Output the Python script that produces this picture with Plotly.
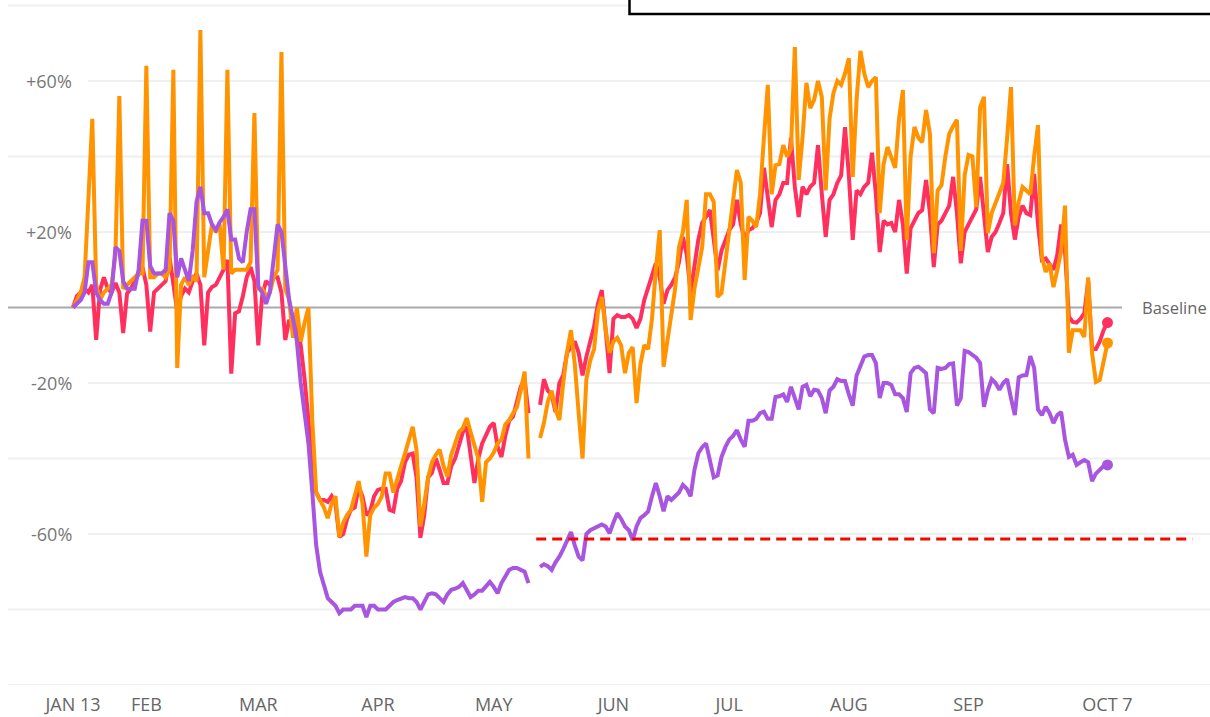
import pandas as pd
import plotly.graph_objects as go

START = "2020-01-13"
N_DAYS = 269

# Daily % change vs baseline (weekly rows, Mon..Sun, starting Mon 13 Jan 2020)
RED = [
    0, 3, 4, 5, 4, 6, -8.6,
    4.6, 8, 5, 4, 6.5, 4, -6.8,
    3.7, 5, 7, 9, 10.7, 6, -6.4,
    4, 5, 6, 7, 13.4, 7, -1,
    3, 5, 4, 7, 9, 6, -10,
    4, 5.4, 6, 8, 10, 12.6, -17.5,
    -1.5, -1, 3, 8, 10.7, 7, -10,
    3, 7, 6, 8, 8, 4, -8.6,
    -3.3, -5, -5, -10, -19, -30, -41,
    -49, -51, -51, -51.5, -50, -52, -60.8,
    -60, -56, -53.6, -53, -47.5, -50, -55,
    -54, -50, -48.3, -48, -48, -53.6, -54,
    -48, -46, -41, -39, -38.7, -45, -61,
    -55, -45, -43.8, -40, -43, -46.5, -46.5,
    -42, -40, -36, -33, -31.6, -40, -46.5,
    -40, -36, -33.8, -31.6, -30.6, -36.9, -39.6,
    -34, -30, -28.9, -25, -21, -19, -28,
    None, None, -25.8, -19, -22, -23, -27.7,
    -20, -17.9, -12, -10.5, -9, -12, -18,
    -13, -9, -5, 1, 4.6, -6, -17.4,
    -3, -2, -2.5, -2.5, -2, -3, -5.4,
    -3, 2, 5, 8, 11.7, 8, 1,
    4.6, 6, 8, 12, 18.7, 14, 4,
    12, 18, 22.4, 24, 25.8, 18, 9.9,
    15, 18, 20.5, 22, 28.5, 22, 18,
    20.5, 21, 22.4, 25, 37, 28, 21.3,
    28.5, 30, 33, 33, 45, 32, 24,
    32, 30, 32, 33, 43, 30, 18.7,
    28.5, 30, 33, 35, 47.8, 35, 17.9,
    31, 30, 32, 33, 41, 30, 14.7,
    23, 22, 22.4, 20, 28.5, 22, 9,
    21, 23, 25, 25.8, 33.8, 25, 10.7,
    22, 23, 25, 27, 34.6, 25, 11.7,
    20, 22, 24, 26, 34.6, 24, 14.7,
    18.7, 20, 22.4, 25, 38, 25, 18,
    24, 27, 25, 24.5, 35.4, 22, 12.6,
    13, 11.7, 10, 14, 22, 15, -2.5,
    -3.8, -4, -3, -1.5, 7, -11, -11,
    -9, -6, -4,
]

ORANGE = [
    0, 2, 4, 8, 28, 50, 6,
    2, 4, 5, 6, 14, 56, 5,
    6, 7, 8, 9, 9, 64, 8,
    8, 9, 9, 8, 10, 63, -16,
    6, 8, 6, 8, 7, 73.5, 8,
    15, 22, 20, 22, 10, 63, 9,
    10, 10, 10, 10, 12, 51.5, 5,
    5, 3, 4, 8, 10, 67.7, 5,
    2, -8, 0, -9, -4, 0, -30,
    -49, -51, -53, -55.8, -52, -50, -60.8,
    -57, -55, -53.6, -50, -46, -52, -66,
    -55, -53, -52, -50, -44, -44, -49,
    -45, -42, -38.7, -35, -31.6, -37.7, -58,
    -52, -45, -41, -39, -37.7, -42, -44.8,
    -39, -36, -33, -32, -29.3, -33, -37,
    -40, -51.5, -41, -40, -38.4, -36, -35,
    -31, -29.8, -28, -26.4, -22, -17, -40,
    None, None, -34.6, -30.6, -25, -22, -27,
    -29.8, -20, -11.8, -6, -15, -28, -40,
    -19, -14, -11, -1, 2.8, -6, -12,
    -9, -8, -10, -17.4, -12, -10.5, -25.3,
    -15, -10, -11, -3, 10, 20.5, -15.7,
    -8.6, -1, 5, 16, 20, 28.5, -3.3,
    5, 10, 16, 30, 30, 28, 2.8,
    3.8, 12, 20.5, 30, 36.4, 33, 7.3,
    24, 23, 21.3, 30, 45, 59, 30,
    37.7, 38, 43, 40, 42, 69, 33.8,
    45, 59.5, 52.8, 55, 60, 55.7, 31,
    50, 56.8, 60, 59, 62, 66, 34.6,
    55, 68, 62, 58.4, 60, 61, 25,
    38, 42.5, 40, 37, 50, 57.6, 17.9,
    40, 47.8, 45, 43.8, 52.3, 46, 14.4,
    31, 32.4, 40, 46, 48, 49.7, 15,
    35, 40.4, 40, 26.6, 53, 55.8, 19.7,
    25, 27.6, 30, 33, 45, 58.4, 21.8,
    28, 31.9, 31, 30, 40, 48.3, 13.4,
    9.4, 11.7, 5.4, 9.9, 15, 27, -12,
    -6, -6, -6, -7.8, 8, -12, -19.7,
    -19.2, -14, -9.4,
]

PURPLE = [
    0, 1, 2, 4, 12, 12, 4,
    2, 1, 1, 4, 16, 15, 7,
    5, 5, 5, 10, 23, 23, 11,
    9, 9, 9, 10, 25, 23, 8,
    13, 10, 7, 15, 28, 32, 25,
    25, 22, 20.5, 22.6, 24, 26, 18,
    18, 13, 12, 20, 26, 26, 5.5,
    4, 1, 4, 12, 22, 20, 10,
    2, -3, -9, -20, -28, -36, -49,
    -63, -70, -74, -77, -78, -79, -81,
    -80, -80, -80, -79, -79, -79, -82,
    -79, -79, -80, -80, -80, -79, -78,
    -77.5, -77, -76.7, -77, -77, -78, -80,
    -78, -76, -75.7, -76, -77, -78, -76,
    -74.8, -74.5, -74, -73, -75, -76.7, -76,
    -75, -75, -74, -72.7, -74, -75.7, -73,
    -71, -69.5, -69, -69, -69.5, -70, -73,
    None, None, -68.7, -68, -68.5, -69.5, -67.5,
    -66, -64, -62, -59.5, -63, -66, -67,
    -60, -59, -58.5, -58, -57.5, -58, -59.8,
    -57, -54.5, -56, -58, -59, -61.6, -58,
    -55.8, -55, -54, -50, -46.5, -50, -54,
    -50, -51, -50, -49, -47, -48, -50,
    -43, -38.6, -37, -36, -40, -45, -44.5,
    -39.6, -37, -35, -34, -32.5, -35, -36.9,
    -30, -30, -29.5, -28, -27.6, -29.5, -29.5,
    -23.7, -23.5, -23, -25, -21, -24, -27,
    -21, -20.5, -23.5, -21.8, -22, -24, -28,
    -22, -21, -19, -19.5, -19.5, -23, -26,
    -18, -15.7, -13, -12.6, -12.6, -14.7, -24,
    -20, -20, -20.5, -23, -23, -24, -27.7,
    -17.4, -16, -15.7, -16.5, -17.4, -27, -28,
    -16, -16.3, -16, -15, -14.8, -26, -24,
    -11.5, -11.8, -12.5, -13.3, -14.7, -26.3, -22,
    -19, -20, -21.8, -20, -19, -24, -28.5,
    -18.5, -18, -17.9, -12.9, -16, -27, -28.5,
    -26.3, -28, -30.6, -28.5, -27.7, -35, -39.6,
    -39, -41.7, -41, -40.4, -41, -46, -44,
    -43, -42, -41.7,
]

TICK_DATES = ["2020-01-13", "2020-02-01", "2020-03-01", "2020-04-01", "2020-05-01",
              "2020-06-01", "2020-07-01", "2020-08-01", "2020-09-01", "2020-10-07"]
TICK_TEXT = ["JAN 13", "FEB", "MAR", "APR", "MAY", "JUN", "JUL", "AUG", "SEP", "OCT 7"]

Y_LABEL_VALUES = [60, 20, -20, -60]
Y_LABEL_TEXT = ["+60%", "+20%", "-20%", "-60%"]
GRID_ONLY_VALUES = [80, 40, -40, -80, -100]

THRESHOLD = -61.3
THRESHOLD_START = "2020-05-12"
THRESHOLD_END = "2020-10-29"

COLORS = {"red": "#FF2F5E", "orange": "#FF9300", "purple": "#A855E0"}

dates = pd.date_range(START, periods=N_DAYS, freq="D")

W, H = 1210, 717
ML, MR, MT, MB = 8, 0, 0, 32
PW = W - ML - MR
PH = H - MT - MB
PX_PER_DAY = 3.86
FIRST_PX = 73  # pixel of first date
x_left = pd.Timestamp(START) - pd.Timedelta(days=(FIRST_PX - ML) / PX_PER_DAY)
x_right = pd.Timestamp(START) + pd.Timedelta(days=(W - MR - FIRST_PX) / PX_PER_DAY)


def px_to_paper_x(px):
    return (px - ML) / PW


FONT = "Open Sans"
fig = go.Figure()

for name, vals, col in [("Red", RED, COLORS["red"]),
                        ("Orange", ORANGE, COLORS["orange"]),
                        ("Purple", PURPLE, COLORS["purple"])]:
    fig.add_trace(go.Scatter(x=dates, y=vals, mode="lines", name=name,
                             line=dict(color=col, width=4), connectgaps=False,
                             showlegend=False, hoverinfo="skip"))
    fig.add_trace(go.Scatter(x=[dates[-1]], y=[vals[-1]], mode="markers",
                             marker=dict(color=col, size=11), showlegend=False,
                             hoverinfo="skip"))

shapes = []
grid_col = "#EFEFEF"
for v in GRID_ONLY_VALUES:
    shapes.append(dict(type="line", xref="paper", yref="y", x0=0, x1=1, y0=v, y1=v,
                       line=dict(color=grid_col, width=2), layer="below"))
for v in Y_LABEL_VALUES:
    shapes.append(dict(type="line", xref="paper", yref="y", x0=px_to_paper_x(88), x1=1,
                       y0=v, y1=v, line=dict(color=grid_col, width=2), layer="below"))
# baseline
shapes.append(dict(type="line", xref="paper", yref="y", x0=0, x1=px_to_paper_x(1122),
                   y0=0, y1=0, line=dict(color="#A9A9A9", width=2), layer="below"))
# threshold dashed line
shapes.append(dict(type="line", xref="x", yref="y", x0=THRESHOLD_START, x1=THRESHOLD_END,
                   y0=THRESHOLD, y1=THRESHOLD,
                   line=dict(color="#FF0000", width=3, dash="10px,6px"), layer="above"))
# title box (cut off at top)
shapes.append(dict(type="rect", xref="paper", yref="paper", x0=px_to_paper_x(629.5), x1=1.1,
                   y0=1 - 14 / PH, y1=1.3, line=dict(color="#000000", width=2.5),
                   fillcolor="white", layer="above"))

annotations = []
for v, t in zip(Y_LABEL_VALUES, Y_LABEL_TEXT):
    annotations.append(dict(text=t, xref="paper", yref="y", x=px_to_paper_x(74), y=v,
                            xanchor="right", yanchor="middle", showarrow=False,
                            font=dict(family=FONT, size=18, color="#777777")))
annotations.append(dict(text="Baseline", xref="paper", yref="y", x=px_to_paper_x(1140), y=0,
                        xanchor="left", yanchor="middle", showarrow=False,
                        font=dict(family=FONT, size=16.5, color="#666666")))

fig.update_layout(
    width=W, height=H,
    margin=dict(l=ML, r=MR, t=MT, b=MB, pad=0),
    paper_bgcolor="white", plot_bgcolor="white",
    shapes=shapes, annotations=annotations,
    xaxis=dict(type="date", range=[x_left, x_right], tickvals=TICK_DATES, ticktext=TICK_TEXT,
               showgrid=False, zeroline=False, showline=False,
               ticks="outside", ticklen=3, tickcolor="rgba(0,0,0,0)",
               tickfont=dict(family=FONT, size=18, color="#666666"),
               automargin=False, fixedrange=True),
    yaxis=dict(range=[-100, 81.46], showgrid=False, zeroline=False, showline=False,
               showticklabels=False, automargin=False, fixedrange=True),
    showlegend=False,
)

fig.write_html("out.html", config={"displayModeBar": False},
               post_script="document.body.style.margin='0';document.body.style.overflow='hidden';")
